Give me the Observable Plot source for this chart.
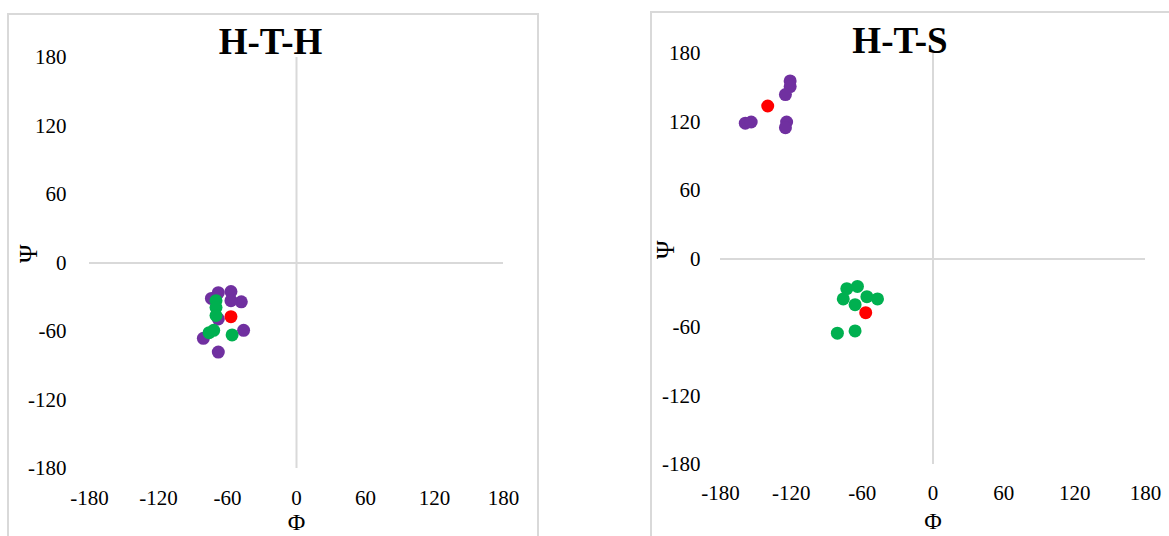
<!DOCTYPE html>
<html>
<head>
<meta charset="utf-8">
<script src="https://cdn.jsdelivr.net/npm/d3@7"></script>
<script src="https://cdn.jsdelivr.net/npm/@observablehq/plot@0.6"></script>
<style>
  html, body { margin: 0; padding: 0; background: #fff; width: 1169px; height: 536px; overflow: hidden; position: relative; }
  .panel { position: absolute; border: 2px solid #d9d9d9; box-sizing: border-box; }
  .chart { position: absolute; top: 0; }
  svg { overflow: visible; }
</style>
</head>
<body>
<div class="panel" style="left:7px; top:13px; width:532px; height:600px;"></div>
<div class="panel" style="left:650px; top:11px; width:560px; height:600px;"></div>
<div id="left" class="chart" style="left:0px;"></div>
<div id="right" class="chart" style="left:600px;"></div>
<script>
const ticks = [-180, -120, -60, 0, 60, 120, 180];
const colors = {purple: "#7030A0", green: "#00B050", red: "#FF0000"};

// H-T-H
const hthPurplePhi = [-74, -68, -57, -48, -57, -68, -46, -81, -68];
const hthPurplePsi = [-31, -26, -25, -34, -33, -49, -59, -66, -78];
const hthGreenPhi = [-70, -70, -70, -76, -72, -56];
const hthGreenPsi = [-33, -39, -46, -61, -59, -63];
const hthRedPhi = [-57];
const hthRedPsi = [-47];

// H-T-S
const htsPurplePhi = [-121, -121, -125, -159, -154, -124, -125];
const htsPurplePsi = [156, 151, 144, 119, 120, 120, 115];
const htsGreenPhi = [-73, -64, -76, -66, -56, -47, -81, -66];
const htsGreenPsi = [-26, -24, -35, -40, -33, -35, -65, -63];
const htsRedPhi = [-140, -57];
const htsRedPsi = [134, -47];

function pts(phi, psi) { return phi.map((p, i) => ({phi: p, psi: psi[i]})); }

function chart(o) {
  return Plot.plot({
    width: o.width, height: 536,
    marginLeft: o.ml, marginRight: o.mr, marginTop: o.mt, marginBottom: o.mb,
    style: {fontFamily: "'Liberation Serif', 'Times New Roman', serif", fontSize: "21px", color: "#000", background: "transparent"},
    x: {domain: [-180, 180], ticks: ticks, tickSize: 0, tickPadding: o.xpad, label: null, tickFormat: d => String(d)},
    y: {domain: [-180, 180], ticks: ticks, tickSize: 0, tickPadding: o.ypad, label: null, tickFormat: d => String(d)},
    marks: [
      Plot.ruleY([0], {stroke: "#d9d9d9", strokeWidth: 2}),
      Plot.ruleX([0], {stroke: "#d9d9d9", strokeWidth: 2}),
      Plot.dot(o.purple, {x: "phi", y: "psi", r: 6.5, fill: colors.purple}),
      Plot.dot(o.green, {x: "phi", y: "psi", r: 6.5, fill: colors.green}),
      Plot.dot(o.red, {x: "phi", y: "psi", r: 6.5, fill: colors.red}),
      Plot.text([o.title], {frameAnchor: "top", dx: o.tdx, dy: o.tdy, lineAnchor: "bottom", fontSize: 37, fontWeight: "bold", fill: "#000"}),
      Plot.text(["Φ"], {frameAnchor: "bottom", dy: o.phiDy, lineAnchor: "middle", fontSize: 24, fill: "#000"}),
      Plot.text(["Ψ"], {frameAnchor: "left", dx: o.psiDx, rotate: -90, lineAnchor: "middle", fontSize: 25, fill: "#000"})
    ]
  });
}

document.getElementById("left").append(chart({
  width: 560, ml: 89, mr: 57, mt: 57, mb: 68, xpad: 22, ypad: 23,
  purple: pts(hthPurplePhi, hthPurplePsi), green: pts(hthGreenPhi, hthGreenPsi), red: pts(hthRedPhi, hthRedPsi),
  title: "H-T-H", tdx: -26, tdy: -4, phiDy: 54, psiDx: -61
}));
document.getElementById("right").append(chart({
  width: 569, ml: 120, mr: 24, mt: 53, mb: 72, xpad: 21, ypad: 20,
  purple: pts(htsPurplePhi, htsPurplePsi), green: pts(htsGreenPhi, htsGreenPsi), red: pts(htsRedPhi, htsRedPsi),
  title: "H-T-S", tdx: -33, tdy: -1, phiDy: 57, psiDx: -55
}));
</script>
</body>
</html>
